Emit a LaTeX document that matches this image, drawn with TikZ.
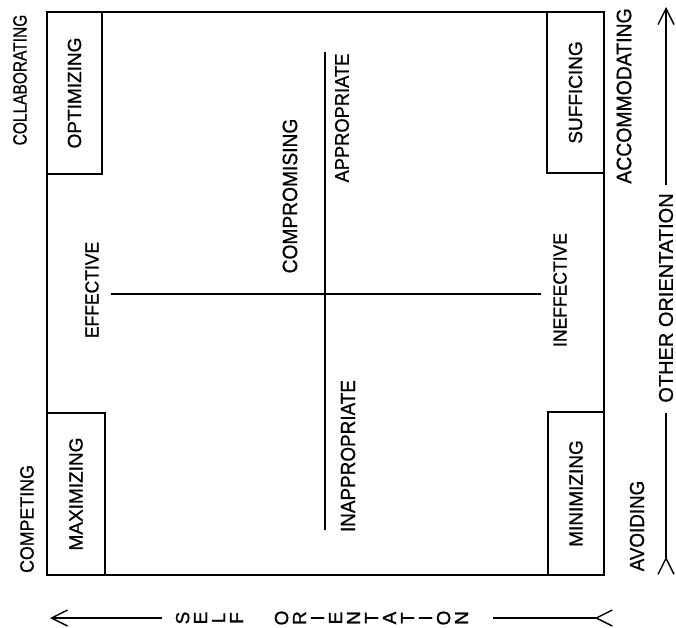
\documentclass[tikz,border=0pt]{standalone}
\usepackage{fontspec}
\setmainfont{Liberation Sans}[FakeBold=0.9]
\usetikzlibrary{arrows.meta}
\tikzset{
  fs/.style={font=\fontsize{#1}{#1}\selectfont},
  lbl/.style={rotate=90, inner sep=0pt, yscale=1.08},
  cbox/.style={draw, line width=1.5pt, rotate=90, inner sep=0pt, fs=19},
  frame/.style={draw, line width=2.2pt, inner sep=0pt},
  axisline/.style={line width=1.8pt},
  headarr/.style={line width=1.4pt, -{Straight Barb[length=16pt,width=16pt]}},
  tailarr/.style={line width=1.4pt, {Straight Barb[reversed,length=16pt,width=16pt]}-},
}
\begin{document}
\begin{tikzpicture}[x=1pt,y=-1pt]
\useasboundingbox (0,0) rectangle (676,627);
% corner boxes
\node[cbox, minimum width=162pt, minimum height=55pt] (optim) at (74.5,93) {OPTIMIZING};
\node[cbox, minimum width=161pt, minimum height=57pt] (suff) at (575.5,92.5) {SUFFICING};
\node[cbox, minimum width=162pt, minimum height=58pt] (maxi) at (76,494) {MAXIMIZING};
\node[cbox, minimum width=163pt, minimum height=56pt] (mini) at (576,493.5) {MINIMIZING};
% frame
\node[frame, minimum width=557pt, minimum height=563pt] (frame) at (325.5,293.5) {};
% cross
\coordinate (hl) at (111,294);
\coordinate (hr) at (541,294);
\coordinate (vt) at (325,52);
\coordinate (vb) at (325,530);
\draw[axisline] (hl) -- (hr);
\draw[line width=1.5pt] (vt) -- (vb);
% inner labels
\node[lbl, fs=17.5] (eff) at (92,290) {EFFECTIVE};
\node[lbl, fs=17.5] (ineff) at (560,290) {INEFFECTIVE};
\node[lbl, fs=19.2] (comp) at (290,196) {COMPROMISING};
\node[lbl, fs=18.3] (appr) at (342,118) {APPROPRIATE};
\node[lbl, fs=18.9] (inappr) at (348,456) {INAPPROPRIATE};
% outer labels
\node[lbl, fs=15.5, yscale=1.15] (collab) at (20,80) {COLLABORATING};
\node[lbl, fs=17.8] (compet) at (27,519) {COMPETING};
\node[lbl, fs=19.4] (accom) at (624,96) {ACCOMMODATING};
\node[lbl, fs=18.8] (avoid) at (637,526) {AVOIDING};
% other orientation arrow
\node[rotate=90, inner sep=0pt, fs=20] (other) at (666,298) {OTHER ORIENTATION};
\coordinate (rtail) at (666,575);
\coordinate (rlow) at (666,413);
\coordinate (rhigh) at (666,185);
\coordinate (rtip) at (666,7);
\draw[tailarr] (rtail) -- (rlow);
\draw[headarr] (rhigh) -- (rtip);
% self orientation arrow
\node[rotate=90, inner sep=0pt, align=center, font=\fontsize{19}{18}\selectfont] (self) at (322,618)
  {S\\E\\L\\F\\[27pt]O\\R\\I\\E\\N\\T\\A\\T\\I\\O\\N};
\coordinate (btail) at (613,618);
\coordinate (bright) at (493,618);
\coordinate (bleft) at (162,618);
\coordinate (btip) at (50,618);
\draw[tailarr] (btail) -- (bright);
\draw[headarr] (bleft) -- (btip);
\end{tikzpicture}
\end{document}
